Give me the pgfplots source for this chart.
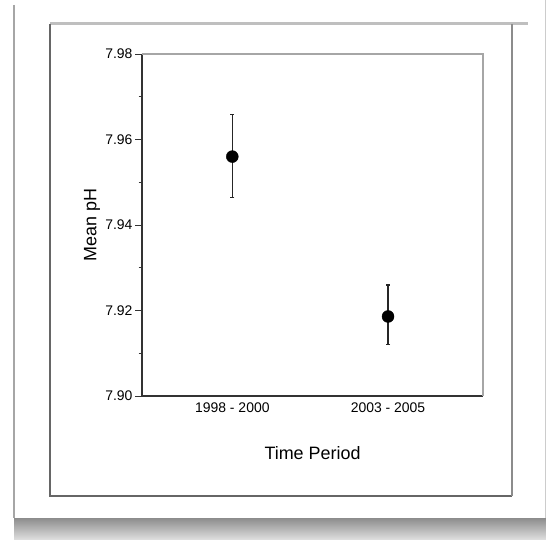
\documentclass[border=0pt]{standalone}
\usepackage{pgfplots}
\pgfplotsset{compat=1.18}
\usepackage{fontspec}
\setmainfont{Liberation Sans}

\begin{document}
\begin{tikzpicture}
% photo-like frame around the chart
\begin{scope}[x=1bp,y=-1bp]
  \fill[white] (0,0) rectangle (546,540);
  \path[use as bounding box] (0,0) rectangle (546,540);
  \shade[top color=black!45, bottom color=black!12] (14,518) rectangle (546,540);
  \draw[black!35, line width=1.5bp] (14,5) -- (14,518);
  \draw[black!20, line width=1bp] (545,0) -- (545,518);
  \draw[black!25, line width=3bp] (50,24) -- (528,24);
  \draw[black!60, line width=1.4bp] (50,24) -- (50,496) -- (512,496);
  \draw[black!45, line width=1.4bp] (512,24) -- (512,496);
\end{scope}

\begin{axis}[
  at={(142bp,-396bp)}, anchor=south west,
  scale only axis, width=341bp, height=342bp,
  xmin=0.42, xmax=2.61, ymin=7.90, ymax=7.98,
  axis x line*=bottom, axis y line*=left,
  axis line style={black!80, line width=1.2bp},
  xtick={1,2}, xticklabels={1998 - 2000, 2003 - 2005},
  xtick style={draw=none},
  ytick={7.90,7.92,7.94,7.96,7.98},
  minor ytick={7.91,7.93,7.95,7.97},
  tick align=outside,
  major tick length=7bp, minor tick length=3.5bp,
  every tick/.style={black!80, line width=1bp},
  scaled y ticks=false,
  yticklabel style={/pgf/number format/fixed, /pgf/number format/fixed zerofill,
    /pgf/number format/precision=2, xshift=1bp},
  /pgf/number format/assume math mode=true,
  tick label style={font=\fontsize{14}{16}\selectfont},
  xticklabel style={yshift=4bp},
  label style={font=\fontsize{18}{21}\selectfont},
  xlabel={Time Period}, ylabel={Mean pH},
  xlabel style={at={(axis description cs:0.5,-0.1667)}, anchor=center},
  ylabel style={at={(axis description cs:-0.1466,0.5)}, anchor=center},
  clip=false,
]
\draw[black!35, line width=1.4bp] (rel axis cs:0,1) -- (rel axis cs:1,1) -- (rel axis cs:1,0);
\addplot[black, only marks, mark=*, mark size=6bp,
  error bars/.cd, y dir=both, y explicit,
  error bar style={black!85, line width=1.4bp},
  error mark options={rotate=90, black!85, mark size=2bp, line width=1.4bp}]
  coordinates {
    (1,7.956) += (0,0.0098) -= (0,0.0096)
    (2,7.9186) += (0,0.0074) -= (0,0.0066)
  };
\end{axis}
\end{tikzpicture}
\end{document}
